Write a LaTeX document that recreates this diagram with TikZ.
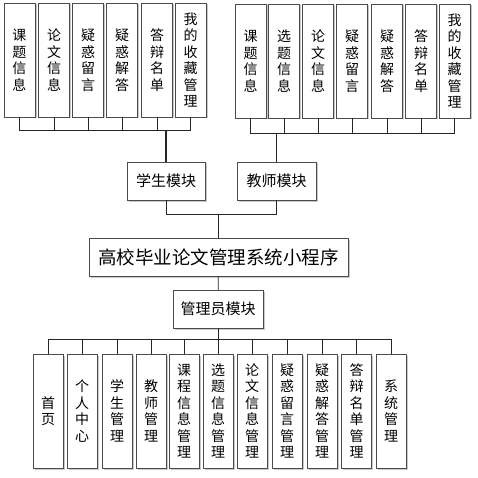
\documentclass[tikz,border=0pt]{standalone}
\usepackage{fontspec}
\newfontfamily\cjk{Noto Sans CJK SC}
\usepackage{tikz}
\usetikzlibrary{shadows}

\begin{document}
\begin{tikzpicture}[x=1pt,y=-1pt]

\tikzset{box/.style = {shape=rectangle,draw=black!70,fill=white,inner sep=0pt,
  drop shadow={shadow xshift=1.5pt,shadow yshift=-1.5pt,fill=black!30,opacity=.7},
  font=\cjk\fontsize{14}{16.5}\selectfont,align=center}}
\tikzset{col/.style = {box,minimum width=31pt,minimum height=114pt}}
\tikzset{modbox/.style = {box,minimum height=38pt,font=\cjk\fontsize{15}{18}\selectfont}}
\tikzset{edge/.style = {draw=black!85,line width=.8pt}}

\useasboundingbox (0,0) rectangle (477,478);

% student items
\node[col] (s1) at (19.5,60) {课\\题\\信\\息};
\node[col] (s2) at (54,60) {论\\文\\信\\息};
\node[col] (s3) at (88,60) {疑\\惑\\留\\言};
\node[col] (s4) at (122,60) {疑\\惑\\解\\答};
\node[col] (s5) at (157,60) {答\\辩\\名\\单};
\node[col] (s6) at (190.5,60) {我\\的\\收\\藏\\管\\理};

% teacher items
\node[col] (t1) at (250.5,61) {课\\题\\信\\息};
\node[col] (t2) at (284,61) {选\\题\\信\\息};
\node[col] (t3) at (318,61) {论\\文\\信\\息};
\node[col] (t4) at (352,61) {疑\\惑\\留\\言};
\node[col] (t5) at (387,61) {疑\\惑\\解\\答};
\node[col] (t6) at (421,61) {答\\辩\\名\\单};
\node[col] (t7) at (454.5,61) {我\\的\\收\\藏\\管\\理};

% modules
\node[modbox,minimum width=78pt] (stu) at (166,181) {学生模块};
\node[modbox,minimum width=79pt] (tea) at (276.5,181) {教师模块};
\node[modbox,minimum width=259pt,font=\cjk\fontsize{18.5}{20}\selectfont] (main) at (218.5,257) {高校毕业论文管理系统小程序};
\node[modbox,minimum width=90pt] (adm) at (218,309) {管理员模块};

% admin items
\node[col,minimum width=30pt] (a1) at (48,411) {首\\页};
\node[col,minimum width=30pt] (a2) at (82,411) {个\\人\\中\\心};
\node[col,minimum width=30pt] (a3) at (117,411) {学\\生\\管\\理};
\node[col,minimum width=30pt] (a4) at (151,411) {教\\师\\管\\理};
\node[col,minimum width=30pt] (a5) at (184,411) {课\\程\\信\\息\\管\\理};
\node[col,minimum width=30pt] (a6) at (218,411) {选\\题\\信\\息\\管\\理};
\node[col,minimum width=30pt] (a7) at (252,411) {论\\文\\信\\息\\管\\理};
\node[col,minimum width=30pt] (a8) at (287,411) {疑\\惑\\留\\言\\管\\理};
\node[col,minimum width=30pt] (a9) at (322,411) {疑\\惑\\解\\答\\管\\理};
\node[col,minimum width=30pt] (a10) at (356.5,411) {答\\辩\\名\\单\\管\\理};
\node[col,minimum width=30pt] (a11) at (391,411) {系\\统\\管\\理};

% junctions
\coordinate (sbus) at (166,130);
\coordinate (tbus) at (276.5,133);
\coordinate (mbus) at (218.5,214);
\coordinate (abus) at (218,339);

%edges
\draw[edge] (s1.south) |- (sbus);
\draw[edge] (s2.south) |- (sbus);
\draw[edge] (s3.south) |- (sbus);
\draw[edge] (s4.south) |- (sbus);
\draw[edge] (s5.south) |- (sbus);
\draw[edge] (s6.south) |- (sbus);
\draw[edge,line width=1.3pt] (sbus) -- (stu.north);

\draw[edge] (t1.south) |- (tbus);
\draw[edge] (t2.south) |- (tbus);
\draw[edge] (t3.south) |- (tbus);
\draw[edge] (t4.south) |- (tbus);
\draw[edge] (t5.south) |- (tbus);
\draw[edge] (t6.south) |- (tbus);
\draw[edge] (t7.south) |- (tbus);
\draw[edge,line width=1.3pt] (tbus) -- (tea.north);

\draw[edge] (stu.south) |- (mbus);
\draw[edge] (tea.south) |- (mbus);
\draw[edge] (mbus) -- (main.north);

\draw[edge] (main) -- (adm);

\draw[edge] (adm.south) -- (abus);
\draw[edge] (abus) -| (a1.north);
\draw[edge] (abus) -| (a2.north);
\draw[edge] (abus) -| (a3.north);
\draw[edge] (abus) -| (a4.north);
\draw[edge] (abus) -| (a5.north);
\draw[edge] (abus) -- (a6.north);
\draw[edge] (abus) -| (a7.north);
\draw[edge] (abus) -| (a8.north);
\draw[edge] (abus) -| (a9.north);
\draw[edge] (abus) -| (a10.north);
\draw[edge] (abus) -| (a11.north);

\end{tikzpicture}
\end{document}
